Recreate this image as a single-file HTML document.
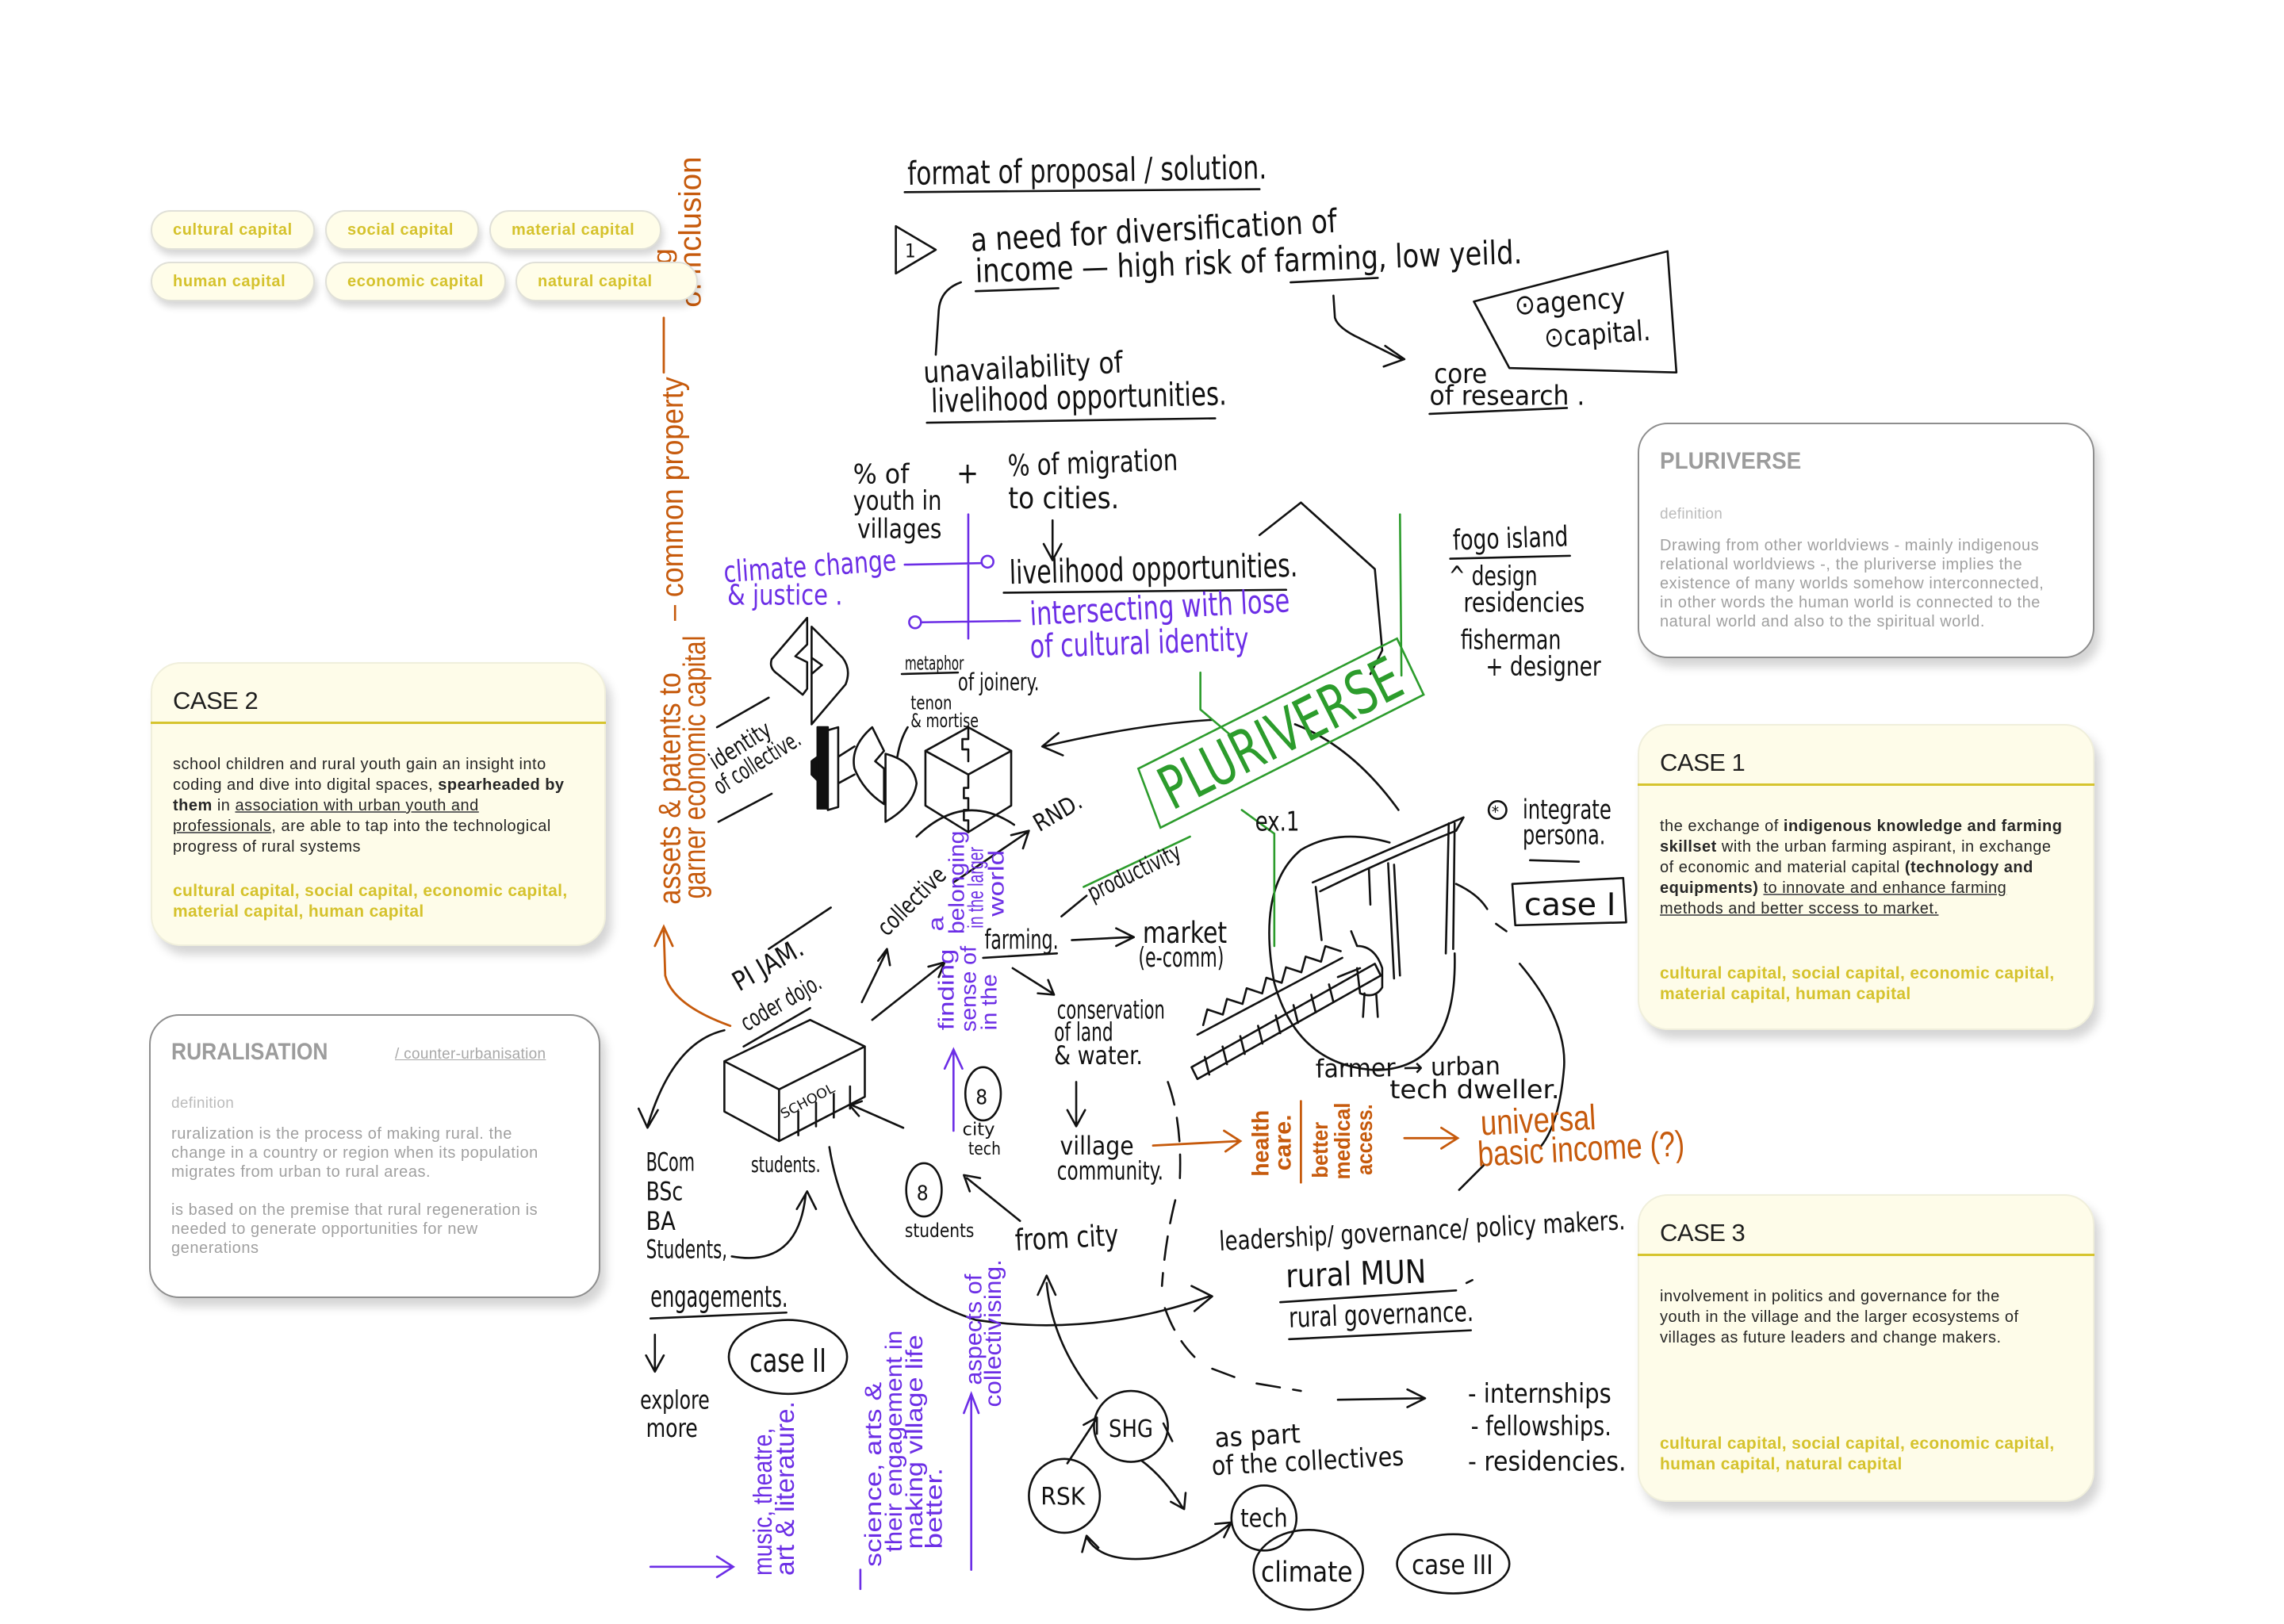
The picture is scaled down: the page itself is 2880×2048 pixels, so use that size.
<!DOCTYPE html>
<html><head><meta charset="utf-8">
<style>
html,body{margin:0;padding:0;background:#fff;}
body{width:2880px;height:2048px;position:relative;overflow:hidden;font-family:"Liberation Sans",sans-serif;}
svg{position:absolute;left:0;top:0;}
.tag{position:absolute;height:46px;border:2px solid #e0e0d8;border-radius:26px;background:#fffde9;box-shadow:3px 7px 9px rgba(0,0,0,0.16);color:#d5c22c;font-weight:bold;font-size:20px;letter-spacing:.6px;line-height:46px;padding-left:26px;box-sizing:content-box;white-space:nowrap;}
.card{position:absolute;border-radius:38px;box-shadow:7px 11px 12px rgba(0,0,0,0.17);box-sizing:border-box;}
.y{background:#fefce9;border:2px solid #f0efdc;}
.g{background:#fff;border:2px solid #8e8e8e;}
.card div{position:absolute;white-space:nowrap;}
.ttl{left:26px;font-size:31px;line-height:34px;color:#1e1e1e;letter-spacing:-.5px;}
.rule{left:-2px;right:-2px;height:3px;background:#d6c42e;}
.body{left:26px;font-size:20px;line-height:26px;letter-spacing:.5px;color:#262626;}
.body u{text-decoration-color:#666;}
.caps{left:26px;font-size:21px;line-height:26px;font-weight:bold;color:#d5c22c;letter-spacing:.35px;}
.gt{left:26px;font-size:30px;line-height:34px;font-weight:bold;color:#9c9c9c;transform:scaleX(.88);transform-origin:left center;}
.def{left:26px;font-size:19px;line-height:24px;color:#bcbcbc;letter-spacing:.3px;}
.gb{left:26px;font-size:20px;line-height:24px;color:#a0a0a0;letter-spacing:.55px;}
</style></head>
<body>
<svg width="2880" height="2048" viewBox="0 0 1545 1098.7" preserveAspectRatio="none">
<g fill="none" stroke="#111" stroke-width="1.4" stroke-linecap="round" stroke-linejoin="round">
<path d="M612 130 L852 128"/>
<polygon points="606,153 606,185 633,169"/>
<path d="M660 197 L716 195 M873 191 L932 188"/>
<path d="M650 191 Q636 196 635 210 L633 240"/>
<path d="M627 286 L822 283"/>
<path d="M902 200 L903 215 Q905 222 920 229 L948 243 M937 234 L950 243 L936 248"/>
<polygon points="997,204 1128,170 1134,252 1021,249"/>
<path d="M967 280 L1060 276"/>
<path d="M712 352 L712 377 M706 368 L712 379 L718 368"/>
<path d="M679 401 L870 399"/>
<path d="M852 362 L880 340 L930 385 L935 440 L927 456"/>
<path d="M981 378 L1062 376"/>
<path d="M820 487 Q770 490 706 505 M716 496 L705 505 L719 511"/>
<path d="M876 490 Q915 505 946 548"/>
<path d="M546 418 L522 446 Q520 452 526 456 L543 470 L546 466 L546 448 L538 444 L546 436 Z"/>
<path d="M549 424 L549 490 L572 463 Q576 453 570 445 Z M549 445 L556 450 L549 456"/>
<path d="M485 492 L520 472 M486 556 L522 537"/>
<path d="M610 456 L648 455 M607 512 Q609 500 614 492"/>
<rect x="553" y="492" width="7" height="55" fill="#111"/>
<path d="M549 515 L553 512 L553 528 L549 524 Z" fill="#111"/>
<path d="M560 494 L567 492 L567 546 L560 548 M567 512 L578 505 M567 530 L578 524"/>
<path d="M590 492 Q575 505 578 520 Q584 535 598 544 L598 520 L592 515 L598 508 Z"/>
<path d="M599 510 L599 556 Q618 545 620 530 Q618 515 599 510 Z"/>
<polygon points="655,492 684,508 684,545 655,563 626,545 626,508"/>
<path d="M626 508 L655 524 L684 508 M655 524 L655 533 L652 533 L652 540 L655 540 L655 548 L652 548 L652 555 L655 555 L655 563 M655 492 L655 500 L651 500 L651 507 L655 507 L655 515"/>
<path d="M620 566 Q652 535 686 558"/>
<path d="M645 597 L695 563 M684 565 L696 562 L692 574"/>
<path d="M583 678 L600 643 M594 650 L600 642 L602 653"/>
<path d="M520 642 L562 614 M503 708 L548 682"/>
<path d="M590 690 L638 652 M628 654 L639 651 L635 661"/>
<path d="M718 620 L735 606"/>
<path d="M665 648 L715 645"/>
<path d="M725 636 L765 634 M755 628 L767 634 L755 640"/>
<path d="M685 655 L712 672 M702 672 L713 673 L709 663"/>
<path d="M490 718 L548 690 L585 708 L527 737 Z M490 718 L490 752 L527 772 L527 737 M527 772 L585 742 L585 708 M540 768 L540 752 M552 762 L552 746 M564 756 L564 740 M575 750 L575 735"/>
<path d="M490 697 Q455 705 438 762 M432 750 L438 763 L445 751"/>
<path d="M611 763 L577 748 M583 745 L575 748 L581 755"/>
<ellipse cx="665" cy="740" rx="12" ry="18"/>
<ellipse cx="625" cy="805" rx="12" ry="18"/>
<path d="M561 776 Q575 865 660 893 Q740 905 818 877 M806 870 L820 877 L808 887"/>
<path d="M690 826 L654 797 M656 806 L652 795 L663 797"/>
<path d="M708 868 Q712 910 742 946 M702 876 L708 863 L714 876"/>
<path d="M728 732 L728 760 M722 751 L728 762 L734 751"/>
<path d="M495 850 Q540 858 545 808 M539 818 L546 806 L552 818"/>
<path d="M440 892 L532 888"/>
<path d="M443 903 L443 926 M437 917 L443 928 L449 917"/>
<ellipse cx="533" cy="918" rx="40" ry="25"/>
<path d="M866 881 L985 873 M992 868 L996 866"/>
<path d="M872 906 L995 900"/>
<ellipse cx="765" cy="965" rx="25" ry="24"/>
<ellipse cx="720" cy="1012" rx="24" ry="25"/>
<ellipse cx="855" cy="1027" rx="22" ry="22"/>
<ellipse cx="885" cy="1062" rx="37" ry="27"/>
<ellipse cx="983" cy="1058" rx="38" ry="20"/>
<path d="M722 990 L741 961 M733 964 L742 959 L742 970"/>
<path d="M735 1040 Q745 1058 780 1054 Q810 1049 832 1031 M732 1050 L735 1039 L743 1047 M822 1031 L833 1030 L828 1040"/>
<path d="M772 988 Q788 1000 800 1020 M792 1016 L801 1021 L802 1010 M787 963 L793 975"/>
<path d="M790 732 Q800 760 798 800 M795 812 Q788 840 786 870 M788 885 Q795 905 808 918 M820 926 L836 932 M850 936 L880 941" stroke-dasharray="16 9"/>
<path d="M905 947 L962 946 M952 940 L964 946 L952 952"/>
<path d="M985 598 Q1000 605 1006 615 M1012 625 L1019 630 M1028 652 Q1060 690 1058 722 Q1055 760 1042 776 M1004 788 L987 805"/>
<path d="M984 645 Q986 722 932 724 Q878 722 862 665 Q850 600 880 575 Q905 560 940 570"/>
<path d="M888 597 L990 553 M893 603 Q940 580 985 562 M990 553 L985 562"/>
<path d="M890 600 L894 636 M926 588 L927 612 M939 584 L943 662 M943 585 L947 660 M980 557 L978 645 M984 557 L983 642"/>
<path d="M914 630 L918 640 Q930 640 935 655 L935 668 Q930 676 920 672 L918 655 M923 672 L922 688 M931 673 L932 688 M920 655 L905 661"/>
<polyline points="813.9,693.5 816.7,682.9 827.2,686.4 830,675.8 840.5,679.2 843.3,668.6 853.8,672.1 856.6,661.5 867,664.9 869.9,654.4 880.3,657.8 883.2,647.2 893.6,650.6 896.5,640.1 906.9,643.5"/>
<path d="M810 700 L908 648"/>
<path d="M806 722 L930 652 L934 660 L810 730 Z M818 727 L815 715 M830 720 L827 708 M842 713 L839 701 M854 706 L851 694 M866 699 L863 687 M878 692 L875 680 M890 685 L887 673 M902 678 L899 666"/>
<circle cx="1013" cy="548" r="6"/>
<path d="M1035 582 L1068 583"/>
<polygon points="1023,598 1098,594 1100,624 1025,626"/>
</g>
<!-- green -->
<g fill="none" stroke="#2c9c2c" stroke-width="1.4" stroke-linecap="round">
<polygon points="770,520 945,432 963,470 785,560"/>
<path d="M947 348 L948 457 M812 455 L812 480 L832 497 M840 548 L862 564 L862 640 M733 600 L805 566"/>
</g>
<text transform="translate(866 496) rotate(-26.7)" x="0" y="14" text-anchor="middle" font-size="40" textLength="178" lengthAdjust="spacingAndGlyphs" fill="#2c9c2c" font-family="Liberation Sans Narrow, DejaVu Sans Condensed, Liberation Sans, sans-serif">PLURIVERSE</text>
<!-- orange -->
<g fill="none" stroke="#c65a0c" stroke-width="1.5" stroke-linecap="round">
<path d="M449 252 L449 215"/>
<path d="M449 630 L450 660 Q455 680 494 694 M443 640 L449 627 L455 640"/>
<path d="M880 745 L880 800"/>
<path d="M780 775 L838 772 M828 765 L839 772 L829 779"/>
<path d="M950 770 L985 770 M975 763 L986 770 L975 777"/>
</g>
<g fill="#c65a0c" font-family="Liberation Sans, sans-serif" lengthAdjust="spacingAndGlyphs">
<text transform="translate(460 612) rotate(-90)" font-size="21" textLength="157" lengthAdjust="spacingAndGlyphs">assets &amp; patents to</text>
<text transform="translate(477 608) rotate(-90)" font-size="21" textLength="178" lengthAdjust="spacingAndGlyphs">garner economic capital</text>
<text transform="translate(462 420) rotate(-90)" font-size="21" textLength="165" lengthAdjust="spacingAndGlyphs">– common property</text>
<text transform="translate(474 186) rotate(-90)" font-size="21" textLength="80" lengthAdjust="spacingAndGlyphs">inclusion</text>
<text transform="translate(474 208) rotate(-90)" font-size="19" textLength="17" lengthAdjust="spacingAndGlyphs">of</text>
<text transform="translate(454 190) rotate(-90)" font-size="18" textLength="22" lengthAdjust="spacingAndGlyphs">ng</text>
<text transform="translate(858 796) rotate(-90)" font-size="16" font-weight="bold" textLength="45" lengthAdjust="spacingAndGlyphs">health</text>
<text transform="translate(873 792) rotate(-90)" font-size="16" font-weight="bold" textLength="38" lengthAdjust="spacingAndGlyphs">care.</text>
<text transform="translate(898 797) rotate(-90)" font-size="15" font-weight="bold" textLength="38" lengthAdjust="spacingAndGlyphs">better</text>
<text transform="translate(913 798) rotate(-90)" font-size="15" font-weight="bold" textLength="52" lengthAdjust="spacingAndGlyphs">medical</text>
<text transform="translate(928 795) rotate(-90)" font-size="15" font-weight="bold" textLength="48" lengthAdjust="spacingAndGlyphs">access.</text>
<text x="1002" y="768" font-size="24" textLength="78" lengthAdjust="spacingAndGlyphs" transform="rotate(-3 1002 768)" font-family="Liberation Sans Narrow, Liberation Sans, sans-serif">universal</text>
<text x="1000" y="789" font-size="24" textLength="140" lengthAdjust="spacingAndGlyphs" transform="rotate(-3 1000 789)" font-family="Liberation Sans Narrow, Liberation Sans, sans-serif">basic income (?)</text>
</g>
<!-- purple -->
<g fill="none" stroke="#6c2ee6" stroke-width="1.4" stroke-linecap="round">
<path d="M612 382 L663 381 M655 348 L655 432 M624 421 L690 420"/>
<circle cx="668" cy="380" r="4"/><circle cx="619" cy="421" r="4"/>
<path d="M645 765 L645 712 M639 723 L645 710 L651 723"/>
<path d="M440 1060 L495 1060 M485 1053 L496 1060 L485 1067"/>
<path d="M657 1062 L657 945 M652 956 L657 943 L662 956"/>
<path d="M582 1062 L582 1075"/>
</g>
<g fill="#6c2ee6" font-family="Liberation Sans Narrow, DejaVu Sans Condensed, Liberation Sans, sans-serif">
<text x="490" y="394" font-size="20" textLength="117" lengthAdjust="spacingAndGlyphs" transform="rotate(-4 490 394)">climate change</text>
<text x="492" y="409" font-size="19" textLength="78" lengthAdjust="spacingAndGlyphs">&amp; justice .</text>
<text x="697" y="423" font-size="22" textLength="176" lengthAdjust="spacingAndGlyphs" transform="rotate(-3 697 423)">intersecting with lose</text>
<text x="697" y="445" font-size="22" textLength="148" lengthAdjust="spacingAndGlyphs" transform="rotate(-2 697 445)">of cultural identity</text>
</g>
<g fill="#6c2ee6" font-family="Liberation Sans, sans-serif">
<text transform="translate(638 630) rotate(-90)" font-size="15" textLength="10" lengthAdjust="spacingAndGlyphs">a</text>
<text transform="translate(652 632) rotate(-90)" font-size="15" textLength="70" lengthAdjust="spacingAndGlyphs">belonging</text>
<text transform="translate(665 628) rotate(-90)" font-size="15" textLength="55" lengthAdjust="spacingAndGlyphs">in the larger</text>
<text transform="translate(679 620) rotate(-90)" font-size="15" textLength="45" lengthAdjust="spacingAndGlyphs">world</text>
<text transform="translate(645 697) rotate(-90)" font-size="15" textLength="55" lengthAdjust="spacingAndGlyphs">finding</text>
<text transform="translate(660 698) rotate(-90)" font-size="15" textLength="58" lengthAdjust="spacingAndGlyphs">sense of</text>
<text transform="translate(674 697) rotate(-90)" font-size="15" textLength="38" lengthAdjust="spacingAndGlyphs">in the</text>
<text transform="translate(522 1066) rotate(-90)" font-size="18" textLength="100" lengthAdjust="spacingAndGlyphs">music, theatre,</text>
<text transform="translate(537 1066) rotate(-90)" font-size="18" textLength="118" lengthAdjust="spacingAndGlyphs">art &amp; literature.</text>
<text transform="translate(596 1060) rotate(-90)" font-size="16" textLength="125" lengthAdjust="spacingAndGlyphs">science, arts &amp;</text>
<text transform="translate(610 1050) rotate(-90)" font-size="16" textLength="150" lengthAdjust="spacingAndGlyphs">their engagement in</text>
<text transform="translate(624 1048) rotate(-90)" font-size="16" textLength="145" lengthAdjust="spacingAndGlyphs">making village life</text>
<text transform="translate(637 1048) rotate(-90)" font-size="16" textLength="55" lengthAdjust="spacingAndGlyphs">better.</text>
<text transform="translate(664 937) rotate(-90)" font-size="16" textLength="75" lengthAdjust="spacingAndGlyphs">aspects of</text>
<text transform="translate(677 952) rotate(-90)" font-size="16" textLength="100" lengthAdjust="spacingAndGlyphs">collectivising.</text>
</g>
<!-- black handwriting -->
<g fill="#111" font-family="Liberation Sans Narrow, DejaVu Sans Condensed, Liberation Sans, sans-serif">
<text x="614" y="125" font-size="22" textLength="243" lengthAdjust="spacingAndGlyphs" transform="rotate(-1 614 125)">format of proposal / solution.</text>
<text x="612" y="174" font-size="13">1</text>
<text x="657" y="170" font-size="22" textLength="248" lengthAdjust="spacingAndGlyphs" transform="rotate(-3 657 170)">a need for diversification of</text>
<text x="660" y="191" font-size="22" textLength="370" lengthAdjust="spacingAndGlyphs" transform="rotate(-2 660 191)">income — high risk of farming, low yeild.</text>
<text x="625" y="259" font-size="20" textLength="135" lengthAdjust="spacingAndGlyphs" transform="rotate(-3 625 259)">unavailability of</text>
<text x="630" y="279" font-size="22" textLength="200" lengthAdjust="spacingAndGlyphs" transform="rotate(-1.5 630 279)">livelihood opportunities.</text>
<text x="1025" y="213" font-size="19" textLength="75" lengthAdjust="spacingAndGlyphs" transform="rotate(-4 1025 213)">⊙agency</text>
<text x="1045" y="235" font-size="19" textLength="72" lengthAdjust="spacingAndGlyphs" transform="rotate(-4 1045 235)">⊙capital.</text>
<text x="970" y="259" font-size="18" textLength="36" lengthAdjust="spacingAndGlyphs">core</text>
<text x="967" y="274" font-size="18" textLength="105" lengthAdjust="spacingAndGlyphs">of research .</text>
<text x="577" y="327" font-size="18" textLength="38" lengthAdjust="spacingAndGlyphs">% of</text>
<text x="577" y="345" font-size="18" textLength="60" lengthAdjust="spacingAndGlyphs">youth in</text>
<text x="580" y="364" font-size="18" textLength="57" lengthAdjust="spacingAndGlyphs">villages</text>
<text x="647" y="327" font-size="20">+</text>
<text x="682" y="322" font-size="20" textLength="115" lengthAdjust="spacingAndGlyphs" transform="rotate(-2 682 322)">% of migration</text>
<text x="682" y="344" font-size="20" textLength="75" lengthAdjust="spacingAndGlyphs">to cities.</text>
<text x="683" y="395" font-size="22" textLength="195" lengthAdjust="spacingAndGlyphs" transform="rotate(-1.5 683 395)">livelihood opportunities.</text>
<text x="983" y="372" font-size="19" textLength="78" lengthAdjust="spacingAndGlyphs" transform="rotate(-2 983 372)">fogo island</text>
<text x="980" y="396" font-size="18" textLength="60" lengthAdjust="spacingAndGlyphs">^ design</text>
<text x="990" y="414" font-size="18" textLength="82" lengthAdjust="spacingAndGlyphs">residencies</text>
<text x="988" y="439" font-size="18" textLength="68" lengthAdjust="spacingAndGlyphs">fisherman</text>
<text x="1005" y="457" font-size="18" textLength="78" lengthAdjust="spacingAndGlyphs">+ designer</text>
<text x="612" y="453" font-size="13" textLength="40" lengthAdjust="spacingAndGlyphs">metaphor</text>
<text x="648" y="467" font-size="16" textLength="55" lengthAdjust="spacingAndGlyphs">of joinery.</text>
<text x="616" y="480" font-size="13" textLength="28" lengthAdjust="spacingAndGlyphs">tenon</text>
<text x="616" y="492" font-size="13" textLength="46" lengthAdjust="spacingAndGlyphs">&amp; mortise</text>
<text x="484" y="521" font-size="16" textLength="46" lengthAdjust="spacingAndGlyphs" transform="rotate(-32 484 521)">identity</text>
<text x="487" y="538" font-size="16" textLength="66" lengthAdjust="spacingAndGlyphs" transform="rotate(-32 487 538)">of collective.</text>
<text x="703" y="563" font-size="16" textLength="35" lengthAdjust="spacingAndGlyphs" transform="rotate(-30 703 563)">RND.</text>
<text x="600" y="634" font-size="16" textLength="58" lengthAdjust="spacingAndGlyphs" transform="rotate(-45 600 634)">collective</text>
<text x="739" y="610" font-size="16" textLength="68" lengthAdjust="spacingAndGlyphs" transform="rotate(-26 739 610)">productivity</text>
<text x="849" y="562" font-size="18" textLength="30" lengthAdjust="spacingAndGlyphs">ex.1</text>
<text x="666" y="642" font-size="18" textLength="50" lengthAdjust="spacingAndGlyphs">farming.</text>
<text x="773" y="638" font-size="20" textLength="57" lengthAdjust="spacingAndGlyphs">market</text>
<text x="770" y="654" font-size="18" textLength="58" lengthAdjust="spacingAndGlyphs">(e-comm)</text>
<text x="715" y="689" font-size="17" textLength="73" lengthAdjust="spacingAndGlyphs">conservation</text>
<text x="713" y="704" font-size="17" textLength="40" lengthAdjust="spacingAndGlyphs">of land</text>
<text x="713" y="720" font-size="17" textLength="60" lengthAdjust="spacingAndGlyphs">&amp; water.</text>
<text x="500" y="671" font-size="18" textLength="52" lengthAdjust="spacingAndGlyphs" transform="rotate(-30 500 671)">PI JAM.</text>
<text x="505" y="698" font-size="16" textLength="60" lengthAdjust="spacingAndGlyphs" transform="rotate(-30 505 698)">coder dojo.</text>
<text x="530" y="757" font-size="9" textLength="40" lengthAdjust="spacingAndGlyphs" transform="rotate(-28 530 757)">SCHOOL</text>
<text x="1030" y="554" font-size="18" textLength="60" lengthAdjust="spacingAndGlyphs">integrate</text>
<text x="1030" y="571" font-size="18" textLength="56" lengthAdjust="spacingAndGlyphs">persona.</text>
<text x="1009" y="553" font-size="11">*</text>
<text x="1031" y="619" font-size="21" textLength="62" lengthAdjust="spacingAndGlyphs">case I</text>
<text x="890" y="729" font-size="17" textLength="125" lengthAdjust="spacingAndGlyphs" transform="rotate(-1 890 729)">farmer → urban</text>
<text x="940" y="743" font-size="17" textLength="115" lengthAdjust="spacingAndGlyphs">tech dweller.</text>
<text x="717" y="781" font-size="17" textLength="50" lengthAdjust="spacingAndGlyphs">village</text>
<text x="715" y="798" font-size="17" textLength="72" lengthAdjust="spacingAndGlyphs">community.</text>
<text x="508" y="793" font-size="15" textLength="47" lengthAdjust="spacingAndGlyphs">students.</text>
<text x="437" y="792" font-size="17" textLength="33" lengthAdjust="spacingAndGlyphs">BCom</text>
<text x="437" y="812" font-size="17" textLength="25" lengthAdjust="spacingAndGlyphs">BSc</text>
<text x="437" y="832" font-size="17" textLength="20" lengthAdjust="spacingAndGlyphs">BA</text>
<text x="437" y="851" font-size="17" textLength="55" lengthAdjust="spacingAndGlyphs">Students,</text>
<text x="660" y="747" font-size="14">8</text>
<text x="620" y="812" font-size="14">8</text>
<text x="651" y="768" font-size="12" textLength="22" lengthAdjust="spacingAndGlyphs">city</text>
<text x="655" y="781" font-size="12" textLength="22" lengthAdjust="spacingAndGlyphs">tech</text>
<text x="612" y="837" font-size="13" textLength="47" lengthAdjust="spacingAndGlyphs">students</text>
<text x="687" y="846" font-size="20" textLength="70" lengthAdjust="spacingAndGlyphs" transform="rotate(-3 687 846)">from city</text>
<text x="825" y="846" font-size="18" textLength="275" lengthAdjust="spacingAndGlyphs" transform="rotate(-3 825 846)">leadership/ governance/ policy makers.</text>
<text x="870" y="871" font-size="22" textLength="95" lengthAdjust="spacingAndGlyphs" transform="rotate(-2 870 871)">rural MUN</text>
<text x="872" y="898" font-size="19" textLength="125" lengthAdjust="spacingAndGlyphs" transform="rotate(-2 872 898)">rural governance.</text>
<text x="440" y="884" font-size="20" textLength="93" lengthAdjust="spacingAndGlyphs">engagements.</text>
<text x="433" y="953" font-size="17" textLength="47" lengthAdjust="spacingAndGlyphs">explore</text>
<text x="437" y="972" font-size="17" textLength="35" lengthAdjust="spacingAndGlyphs">more</text>
<text x="507" y="928" font-size="22" textLength="52" lengthAdjust="spacingAndGlyphs">case II</text>
<text x="750" y="972" font-size="16" textLength="30" lengthAdjust="spacingAndGlyphs">SHG</text>
<text x="704" y="1018" font-size="16" textLength="30" lengthAdjust="spacingAndGlyphs">RSK</text>
<text x="839" y="1033" font-size="17" textLength="32" lengthAdjust="spacingAndGlyphs">tech</text>
<text x="853" y="1070" font-size="19" textLength="62" lengthAdjust="spacingAndGlyphs">climate</text>
<text x="955" y="1065" font-size="18" textLength="55" lengthAdjust="spacingAndGlyphs">case III</text>
<text x="822" y="979" font-size="18" textLength="58" lengthAdjust="spacingAndGlyphs" transform="rotate(-3 822 979)">as part</text>
<text x="820" y="998" font-size="18" textLength="130" lengthAdjust="spacingAndGlyphs" transform="rotate(-3 820 998)">of the collectives</text>
<text x="993" y="949" font-size="18" textLength="97" lengthAdjust="spacingAndGlyphs">- internships</text>
<text x="995" y="971" font-size="18" textLength="95" lengthAdjust="spacingAndGlyphs">- fellowships.</text>
<text x="993" y="995" font-size="18" textLength="107" lengthAdjust="spacingAndGlyphs">- residencies.</text>
</g>
</svg>

<div class="tag" style="left:190px;top:265px;width:177px;">cultural capital</div>
<div class="tag" style="left:410px;top:265px;width:164px;">social capital</div>
<div class="tag" style="left:617px;top:265px;width:187px;">material capital</div>
<div class="tag" style="left:190px;top:330px;width:177px;">human capital</div>
<div class="tag" style="left:410px;top:330px;width:198px;">economic capital</div>
<div class="tag" style="left:650px;top:330px;width:200px;">natural capital</div>

<div class="card y" style="left:190px;top:835px;width:574px;height:358px;">
<div class="ttl" style="top:30px;">CASE 2</div>
<div class="rule" style="top:73px;"></div>
<div class="body" style="top:114px;">school children and rural youth gain an insight into<br>coding and dive into digital spaces, <b>spearheaded by</b><br><b>them</b> in <u>association with urban youth and</u><br><u>professionals</u>, are able to tap into the technological<br>progress of rural systems</div>
<div class="caps" style="top:274px;">cultural capital, social capital, economic capital,<br>material capital, human capital</div>
</div>

<div class="card g" style="left:188px;top:1279px;width:569px;height:358px;">
<div class="gt" style="top:29px;">RURALISATION</div>
<div class="def" style="top:37px;left:308px;color:#a8a8a8;font-size:19px;"><u>/ counter-urbanisation</u></div>
<div class="def" style="top:99px;">definition</div>
<div class="gb" style="top:137px;">ruralization is the process of making rural. the<br>change in a country or region when its population<br>migrates from urban to rural areas.<br><br>is based on the premise that rural regeneration is<br>needed to generate opportunities for new<br>generations</div>
</div>

<div class="card g" style="left:2065px;top:533px;width:576px;height:297px;">
<div class="gt" style="top:30px;transform:scaleX(.93);">PLURIVERSE</div>
<div class="def" style="top:102px;">definition</div>
<div class="gb" style="top:141px;">Drawing from other worldviews - mainly indigenous<br>relational worldviews -, the pluriverse implies the<br>existence of many worlds somehow interconnected,<br>in other words the human world is connected to the<br>natural world and also to the spiritual world.</div>
</div>

<div class="card y" style="left:2065px;top:913px;width:576px;height:386px;">
<div class="ttl" style="top:30px;">CASE 1</div>
<div class="rule" style="top:73px;"></div>
<div class="body" style="top:114px;">the exchange of <b>indigenous knowledge and farming</b><br><b>skillset</b> with the urban farming aspirant, in exchange<br>of economic and material capital <b>(technology and</b><br><b>equipments)</b> <u>to innovate and enhance farming</u><br><u>methods and better sccess to market.</u></div>
<div class="caps" style="top:300px;">cultural capital, social capital, economic capital,<br>material capital, human capital</div>
</div>

<div class="card y" style="left:2065px;top:1506px;width:576px;height:388px;">
<div class="ttl" style="top:30px;">CASE 3</div>
<div class="rule" style="top:73px;"></div>
<div class="body" style="top:114px;">involvement in politics and governance for the<br>youth in the village and the larger ecosystems of<br>villages as future leaders and change makers.</div>
<div class="caps" style="top:300px;">cultural capital, social capital, economic capital,<br>human capital, natural capital</div>
</div>
</body></html>
